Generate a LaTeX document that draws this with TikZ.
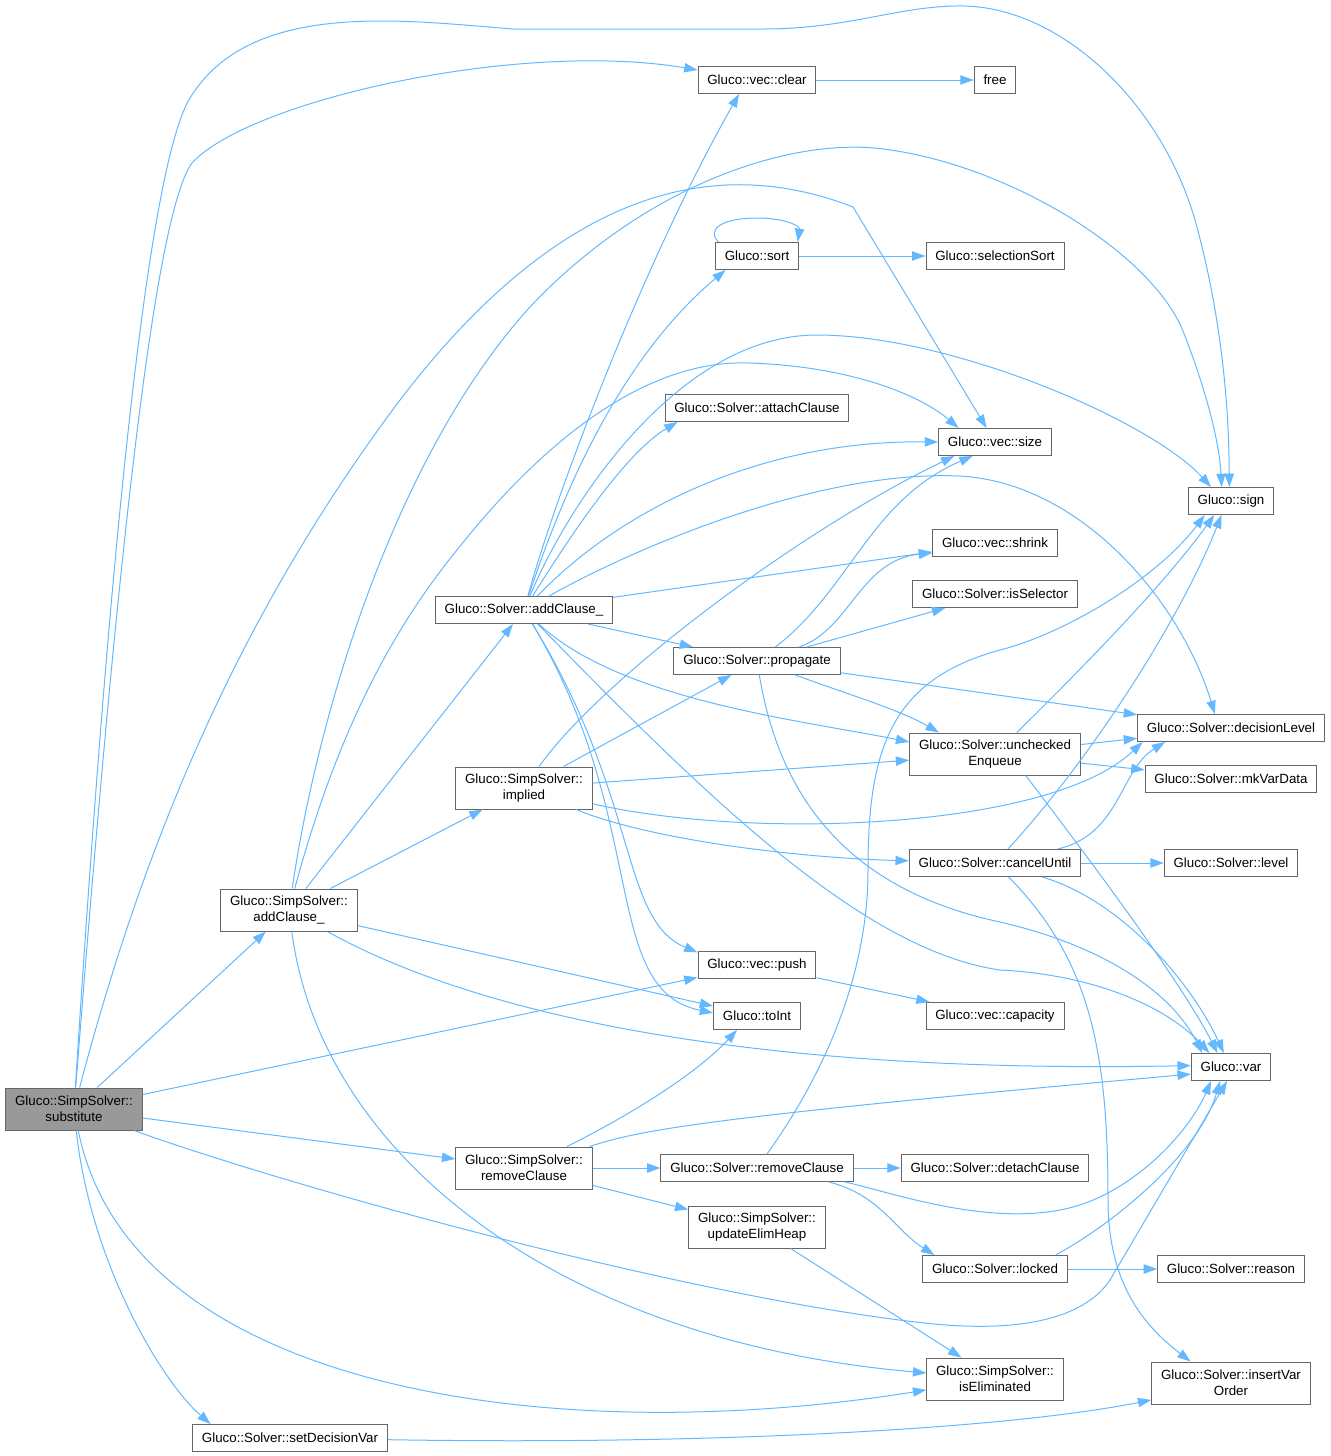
\documentclass[tikz,border=0pt]{standalone}
\usepackage{fontspec}
\setmainfont{Liberation Sans}
\usetikzlibrary{arrows.meta}
\definecolor{callblue}{HTML}{63B8FF}
\definecolor{rootgray}{HTML}{999999}
\definecolor{boxgray}{HTML}{666666}
\tikzset{
    fnbox/.style={rectangle, draw=boxgray, fill=white, line width=0.75pt, inner xsep=7pt, inner ysep=2pt, minimum height=20.25pt, align=center, font=\fontsize{10}{12}\selectfont},
    fnbox2/.style={fnbox, minimum height=31.5pt},
    rootbox/.style={fnbox2, fill=rootgray},
    call/.style={-{Triangle[length=10pt, width=7pt]}, line width=0.75pt, draw=callblue}
}
\begin{document}
\begin{tikzpicture}[x=0.75pt, y=-0.75pt]
\useasboundingbox (0,0) rectangle (1331,1456);
% functions
\node[rootbox] (sub) at (74,1109) {Gluco::SimpSolver::\\substitute};
\node[fnbox] (clear) at (757,80) {Gluco::vec::clear};
\node[fnbox] (free) at (995,80) {free};
\node[fnbox] (sort) at (757,256) {Gluco::sort};
\node[fnbox] (selsort) at (995,256) {Gluco::selectionSort};
\node[fnbox] (attach) at (757,408) {Gluco::Solver::attachClause};
\node[fnbox] (size) at (995,442) {Gluco::vec::size};
\node[fnbox] (sign) at (1231,501) {Gluco::sign};
\node[fnbox] (shrink) at (995,543) {Gluco::vec::shrink};
\node[fnbox] (issel) at (995,594) {Gluco::Solver::isSelector};
\node[fnbox] (sadd) at (524,610) {Gluco::Solver::addClause\_};
\node[fnbox] (prop) at (757,661) {Gluco::Solver::propagate};
\node[fnbox] (declev) at (1231,728) {Gluco::Solver::decisionLevel};
\node[fnbox2] (unchk) at (995,754) {Gluco::Solver::unchecked\\Enqueue};
\node[fnbox] (mkvar) at (1231,779) {Gluco::Solver::mkVarData};
\node[fnbox2] (implied) at (524,788) {Gluco::SimpSolver::\\implied};
\node[fnbox] (cancel) at (995,863) {Gluco::Solver::cancelUntil};
\node[fnbox] (level) at (1231,863) {Gluco::Solver::level};
\node[fnbox2] (simpadd) at (289,910) {Gluco::SimpSolver::\\addClause\_};
\node[fnbox] (push) at (757,965) {Gluco::vec::push};
\node[fnbox] (toint) at (757,1016) {Gluco::toInt};
\node[fnbox] (capacity) at (995,1016) {Gluco::vec::capacity};
\node[fnbox] (var) at (1231,1067) {Gluco::var};
\node[fnbox2] (simprem) at (524,1168) {Gluco::SimpSolver::\\removeClause};
\node[fnbox] (rem) at (757,1168) {Gluco::Solver::removeClause};
\node[fnbox] (detach) at (995,1168) {Gluco::Solver::detachClause};
\node[fnbox2] (elim) at (757,1227) {Gluco::SimpSolver::\\updateElimHeap};
\node[fnbox] (locked) at (995,1269) {Gluco::Solver::locked};
\node[fnbox] (reason) at (1231,1269) {Gluco::Solver::reason};
\node[fnbox2] (iselim) at (995,1379) {Gluco::SimpSolver::\\isEliminated};
\node[fnbox2] (insvar) at (1231,1383) {Gluco::Solver::insertVar\\Order};
\node[fnbox] (setdec) at (290,1438) {Gluco::Solver::setDecisionVar};

% calls of substitute
\draw[call] (sub) .. controls (100,700) and (140,180) .. (190,98) .. controls (250,0) and (400,20) .. (513,29) -- (763,29) .. controls (850,29) and (900,5) .. (964,6) .. controls (1060,8) and (1160,100) .. (1195,220) .. controls (1220,310) and (1229,400) .. (sign.97);
\draw[call] (sub) .. controls (110,650) and (150,220) .. (192,163) .. controls (250,100) and (520,40) .. (clear);
\draw[call] (sub) .. controls (150,820) and (250,600) .. (400,400) .. controls (530,230) and (680,140) .. (853,207) -- (size);
\draw[call] (sub) -- (simpadd);
\draw[call] (sub) -- (push);
\draw[call] (sub) -- (simprem);
\draw[call] (sub) .. controls (300,1190) and (700,1300) .. (934,1324) .. controls (1040,1334) and (1090,1310) .. (1110,1280) -- (var.254);
\draw[call] (sub) .. controls (130,1390) and (550,1450) .. (iselim);
\draw[call] (sub) .. controls (90,1260) and (160,1380) .. (setdec.170);

% calls of SimpSolver::addClause_
\draw[call] (simpadd) -- (sadd);
\draw[call] (simpadd) -- (implied);
\draw[call] (simpadd) -- (toint);
\draw[call] (simpadd) .. controls (450,1000) and (700,1075) .. (var.178);
\draw[call] (simpadd) .. controls (320,1150) and (550,1340) .. (iselim.175);
\draw[call] (simpadd) .. controls (320,700) and (400,450) .. (530,307) .. controls (640,190) and (780,140) .. (874,148) .. controls (1000,160) and (1150,250) .. (1183,331) .. controls (1210,400) and (1220,450) .. (sign.124);
\draw[call] (simpadd) .. controls (340,720) and (400,620) .. (457,550) .. controls (560,420) and (660,360) .. (748,363) .. controls (850,366) and (920,395) .. (size.159);

% calls of Solver::addClause_
\draw[call] (sadd) .. controls (560,480) and (650,250) .. (clear.218);
\draw[call] (sadd) .. controls (570,470) and (630,350) .. (sort.204);
\draw[call] (sadd) .. controls (580,520) and (630,450) .. (attach.190);
\draw[call] (sadd) .. controls (620,510) and (760,440) .. (size.west);
\draw[call] (sadd) .. controls (570,500) and (680,335) .. (817,335) .. controls (950,335) and (1150,420) .. (sign.145);
\draw[call] (sadd) .. controls (640,545) and (820,470) .. (959,476) .. controls (1080,482) and (1180,600) .. (declev.139);
\draw[call] (sadd) -- (shrink);
\draw[call] (sadd) -- (prop);
\draw[call] (sadd) .. controls (620,700) and (800,720) .. (unchk.172);
\draw[call] (sadd) .. controls (700,790) and (860,950) .. (1000,970) .. controls (1100,975) and (1170,1010) .. (var.147);
\draw[call] (sadd) .. controls (640,800) and (620,920) .. (push.168);
\draw[call] (sadd) .. controls (650,820) and (600,990) .. (toint.176);

% sort, clear
\draw[call] (sort.160) .. controls (705,228) and (725,218) .. (757,218) .. controls (785,218) and (800,226) .. (sort.19);
\draw[call] (sort) -- (selsort);
\draw[call] (clear) -- (free);

% calls of propagate
\draw[call] (prop) .. controls (850,590) and (870,500) .. (size.212);
\draw[call] (prop) .. controls (850,630) and (860,560) .. (shrink.189);
\draw[call] (prop) -- (issel);
\draw[call] (prop) -- (declev);
\draw[call] (prop) .. controls (850,695) and (900,710) .. (unchk.159);
\draw[call] (prop) .. controls (780,800) and (850,890) .. (1000,922) .. controls (1100,945) and (1170,990) .. (var.154);

% calls of implied
\draw[call] (implied) .. controls (600,680) and (800,530) .. (size.199);
\draw[call] (implied) -- (prop);
\draw[call] (implied) -- (unchk);
\draw[call] (implied) .. controls (750,840) and (1050,830) .. (declev.189);
\draw[call] (implied) .. controls (650,840) and (800,858) .. (cancel);

% calls of uncheckedEnqueue
\draw[call] (unchk) .. controls (1070,680) and (1160,590) .. (sign.220);
\draw[call] (unchk) -- (declev);
\draw[call] (unchk) -- (mkvar);
\draw[call] (unchk.325) .. controls (1090,860) and (1180,980) .. (var.134);

% calls of cancelUntil
\draw[call] (cancel) .. controls (1090,760) and (1180,620) .. (sign.236);
\draw[call] (cancel) .. controls (1120,835) and (1120,770) .. (declev.192);
\draw[call] (cancel) -- (level);
\draw[call] (cancel) .. controls (1120,900) and (1190,980) .. (var.117);
\draw[call] (cancel) .. controls (1090,960) and (1108,1050) .. (1108,1200) .. controls (1108,1290) and (1150,1330) .. (insvar.152);

\draw[call] (push) -- (capacity);

% calls of SimpSolver::removeClause
\draw[call] (simprem) .. controls (640,1110) and (700,1070) .. (toint.215);
\draw[call] (simprem) .. controls (640,1130) and (700,1118) .. (var.190);
\draw[call] (simprem) -- (rem);
\draw[call] (simprem) -- (elim);

% calls of Solver::removeClause
\draw[call] (rem) .. controls (820,1080) and (868,980) .. (868,870) .. controls (868,750) and (890,680) .. (1000,650) .. controls (1070,632) and (1160,575) .. (sign.208);
\draw[call] (rem) -- (detach);
\draw[call] (rem.349) .. controls (880,1195) and (895,1230) .. (locked.167);
\draw[call] (rem.351) .. controls (900,1195) and (1000,1230) .. (1080,1205) .. controls (1140,1185) and (1190,1130) .. (var.215);

\draw[call] (locked.13) .. controls (1120,1220) and (1200,1150) .. (var.232);
\draw[call] (locked) -- (reason);
\draw[call] (elim) -- (iselim);
\draw[call] (setdec) .. controls (700,1445) and (1000,1430) .. (insvar.192);
\end{tikzpicture}
\end{document}
